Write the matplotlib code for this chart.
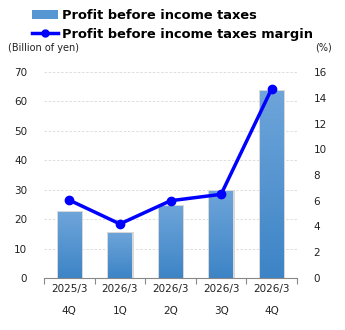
import numpy as np
import matplotlib.pyplot as plt
from matplotlib.patches import Rectangle
from matplotlib.lines import Line2D

# data
periods = ["2025/3", "2026/3", "2026/3", "2026/3", "2026/3"]
quarters = ["4Q", "1Q", "2Q", "3Q", "4Q"]
profit = [22.4, 15.3, 24.5, 29.6, 63.6]      # billion of yen
margin = [6.05, 4.2, 6.0, 6.5, 14.7]         # %

fig = plt.figure(figsize=(3.45, 3.3), dpi=100)
ax = fig.add_axes([44 / 345, 52 / 330, 253 / 345, 206 / 330])
ax2 = ax.twinx()

x = np.arange(len(profit))
width = 0.46

# gradient bars
grad = np.linspace(0, 1, 256).reshape(-1, 1)
cmap = plt.matplotlib.colors.LinearSegmentedColormap.from_list("b", ["#3d84c6", "#6ea5da"])
for xi, v in zip(x, profit):
    # soft shadow
    ax.add_patch(Rectangle((xi - width / 2 - 0.02, 0), width + 0.06, v + 0.4,
                           color="#d8d8d8", zorder=1.5, lw=0))
    bar = Rectangle((xi - width / 2, 0), width, v, facecolor="none", lw=0, zorder=2)
    ax.add_patch(bar)
    im = ax.imshow(grad, cmap=cmap, origin="lower", aspect="auto",
                   extent=(xi - width / 2, xi + width / 2, 0, v), zorder=2)
    im.set_clip_path(bar)

ax.set_xlim(-0.5, len(profit) - 0.5)
ax.set_ylim(0, 70)
ax.set_yticks(range(0, 71, 10))
ax.grid(axis="y", color="#d9d9d9", linestyle=(0, (3, 2)), linewidth=0.6)
ax.set_axisbelow(True)

ax2.plot(x, margin, color="#0000ff", lw=2.5, marker="o", ms=6, zorder=5)
ax2.set_ylim(0, 16)
ax2.set_yticks(range(0, 17, 2))

for a in (ax, ax2):
    for s in ("top", "left", "right"):
        a.spines[s].set_visible(False)
    a.tick_params(axis="y", length=0, labelsize=7.5, colors="#222222")
ax.spines["bottom"].set_color("#888888")
ax2.spines["bottom"].set_visible(False)
ax.tick_params(axis="y", pad=12)
ax2.tick_params(axis="y", pad=12)

# category ticks at boundaries, labels centered
ax.set_xticks(np.arange(-0.5, len(profit), 1.0))
ax.set_xticklabels([])
ax.tick_params(axis="x", length=4, direction="out", color="#888888")
for xi, p, q in zip(x, periods, quarters):
    ax.text(xi, -0.03, p, transform=ax.get_xaxis_transform(), ha="center", va="top",
            fontsize=7.5, color="#222222")
    ax.text(xi, -0.135, q, transform=ax.get_xaxis_transform(), ha="center", va="top",
            fontsize=7.5, color="#222222")

fig.text(8 / 345, 1 - 48 / 330, "(Billion of yen)", fontsize=7, va="center", color="#222222")
fig.text(332 / 345, 1 - 48 / 330, "(%)", fontsize=7, va="center", ha="right", color="#222222")

# legend
handles = [Rectangle((0, 0), 1, 1, facecolor="#5596d3", lw=0),
           Line2D([0], [0], color="#0000ff", lw=2.5, marker="o", ms=5)]
fig.legend(handles, ["Profit before income taxes", "Profit before income taxes margin"],
           loc="upper left", bbox_to_anchor=(23 / 345, 1.0), frameon=False,
           prop={"weight": "bold", "size": 9.4}, handlelength=2.0, handletextpad=0.3,
           labelspacing=0.45, borderpad=0.2)

fig.savefig("out.png", dpi=100)
